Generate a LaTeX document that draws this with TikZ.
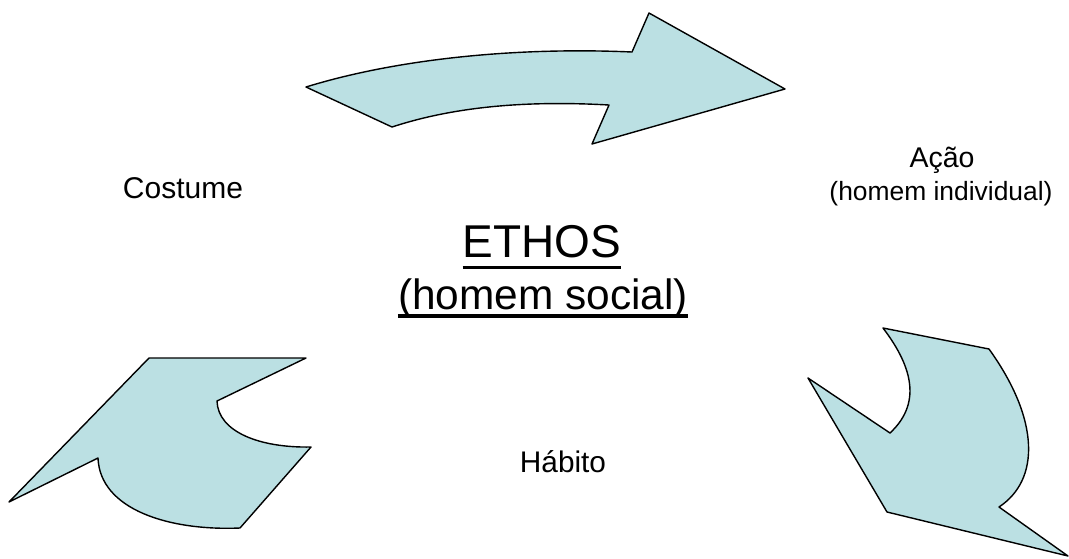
\documentclass[tikz,border=0pt]{standalone}
\usepackage{fontspec}
\setmainfont{Liberation Sans}
\usepackage{tikz}
\usetikzlibrary{positioning}
\usepackage{xcolor}
\definecolor{arrowblue}{RGB}{187,224,227}

\newcommand{\fs}[1]{\fontsize{#1}{#1}\selectfont}

\begin{document}
\begin{tikzpicture}[x=1pt, y=-1pt,
    arrowfill/.style={fill=arrowblue, draw=black, line width=1.4pt, line join=round},
    label/.style={anchor=base, inner sep=0pt},
    uline/.style={line width=3.3pt}]
        \useasboundingbox (0,0) rectangle (1069,558);

        % Top arrow (Costume -> Acao)
        \filldraw[arrowfill] (306,87) .. controls (400,58) and (520,47) .. (632,52)
            -- (649,13) -- (785,89) -- (592,144) -- (609,105)
            .. controls (520,100) and (450,108) .. (392,127) -- cycle;

        % Bottom right arrow (Acao -> Habito)
        \filldraw[arrowfill] (883,328) -- (989,349)
            .. controls (1040,420) and (1040,480) .. (999,507)
            -- (1068,556) -- (887,512) -- (808,378) -- (890,433)
            .. controls (920,405) and (915,370) .. cycle;

        % Bottom left arrow (Habito -> Costume)
        \filldraw[arrowfill] (149,358) -- (306,358) -- (217,401)
            .. controls (218,432) and (260,448) .. (311,447)
            -- (240,528) .. controls (170,531) and (100,510) .. (98,458)
            -- (9,502) -- cycle;

        % Labels
        \node[label] (costume) at (183,198) {\fs{30}Costume};
        \node[label] (acao) at (942,167) {\fs{28.5}Ação};
        \node[label] (acaoSub) at (941,200) {\fs{26.4}(homem individual)};
        \node[label] (ethos) at (542,257) {\fs{46}ETHOS};
        \node[label] (social) at (543,309) {\fs{42.4}(homem social)};
        \node[label] (habito) at (563,472) {\fs{29.8}Hábito};

        % Underlines
        \draw[uline] ([yshift=-10.5pt]ethos.base west) -- ([yshift=-10.5pt]ethos.base east);
        \draw[uline] ([yshift=-7pt]social.base west) -- ([yshift=-7pt]social.base east);
    \end{tikzpicture}
\end{document}
